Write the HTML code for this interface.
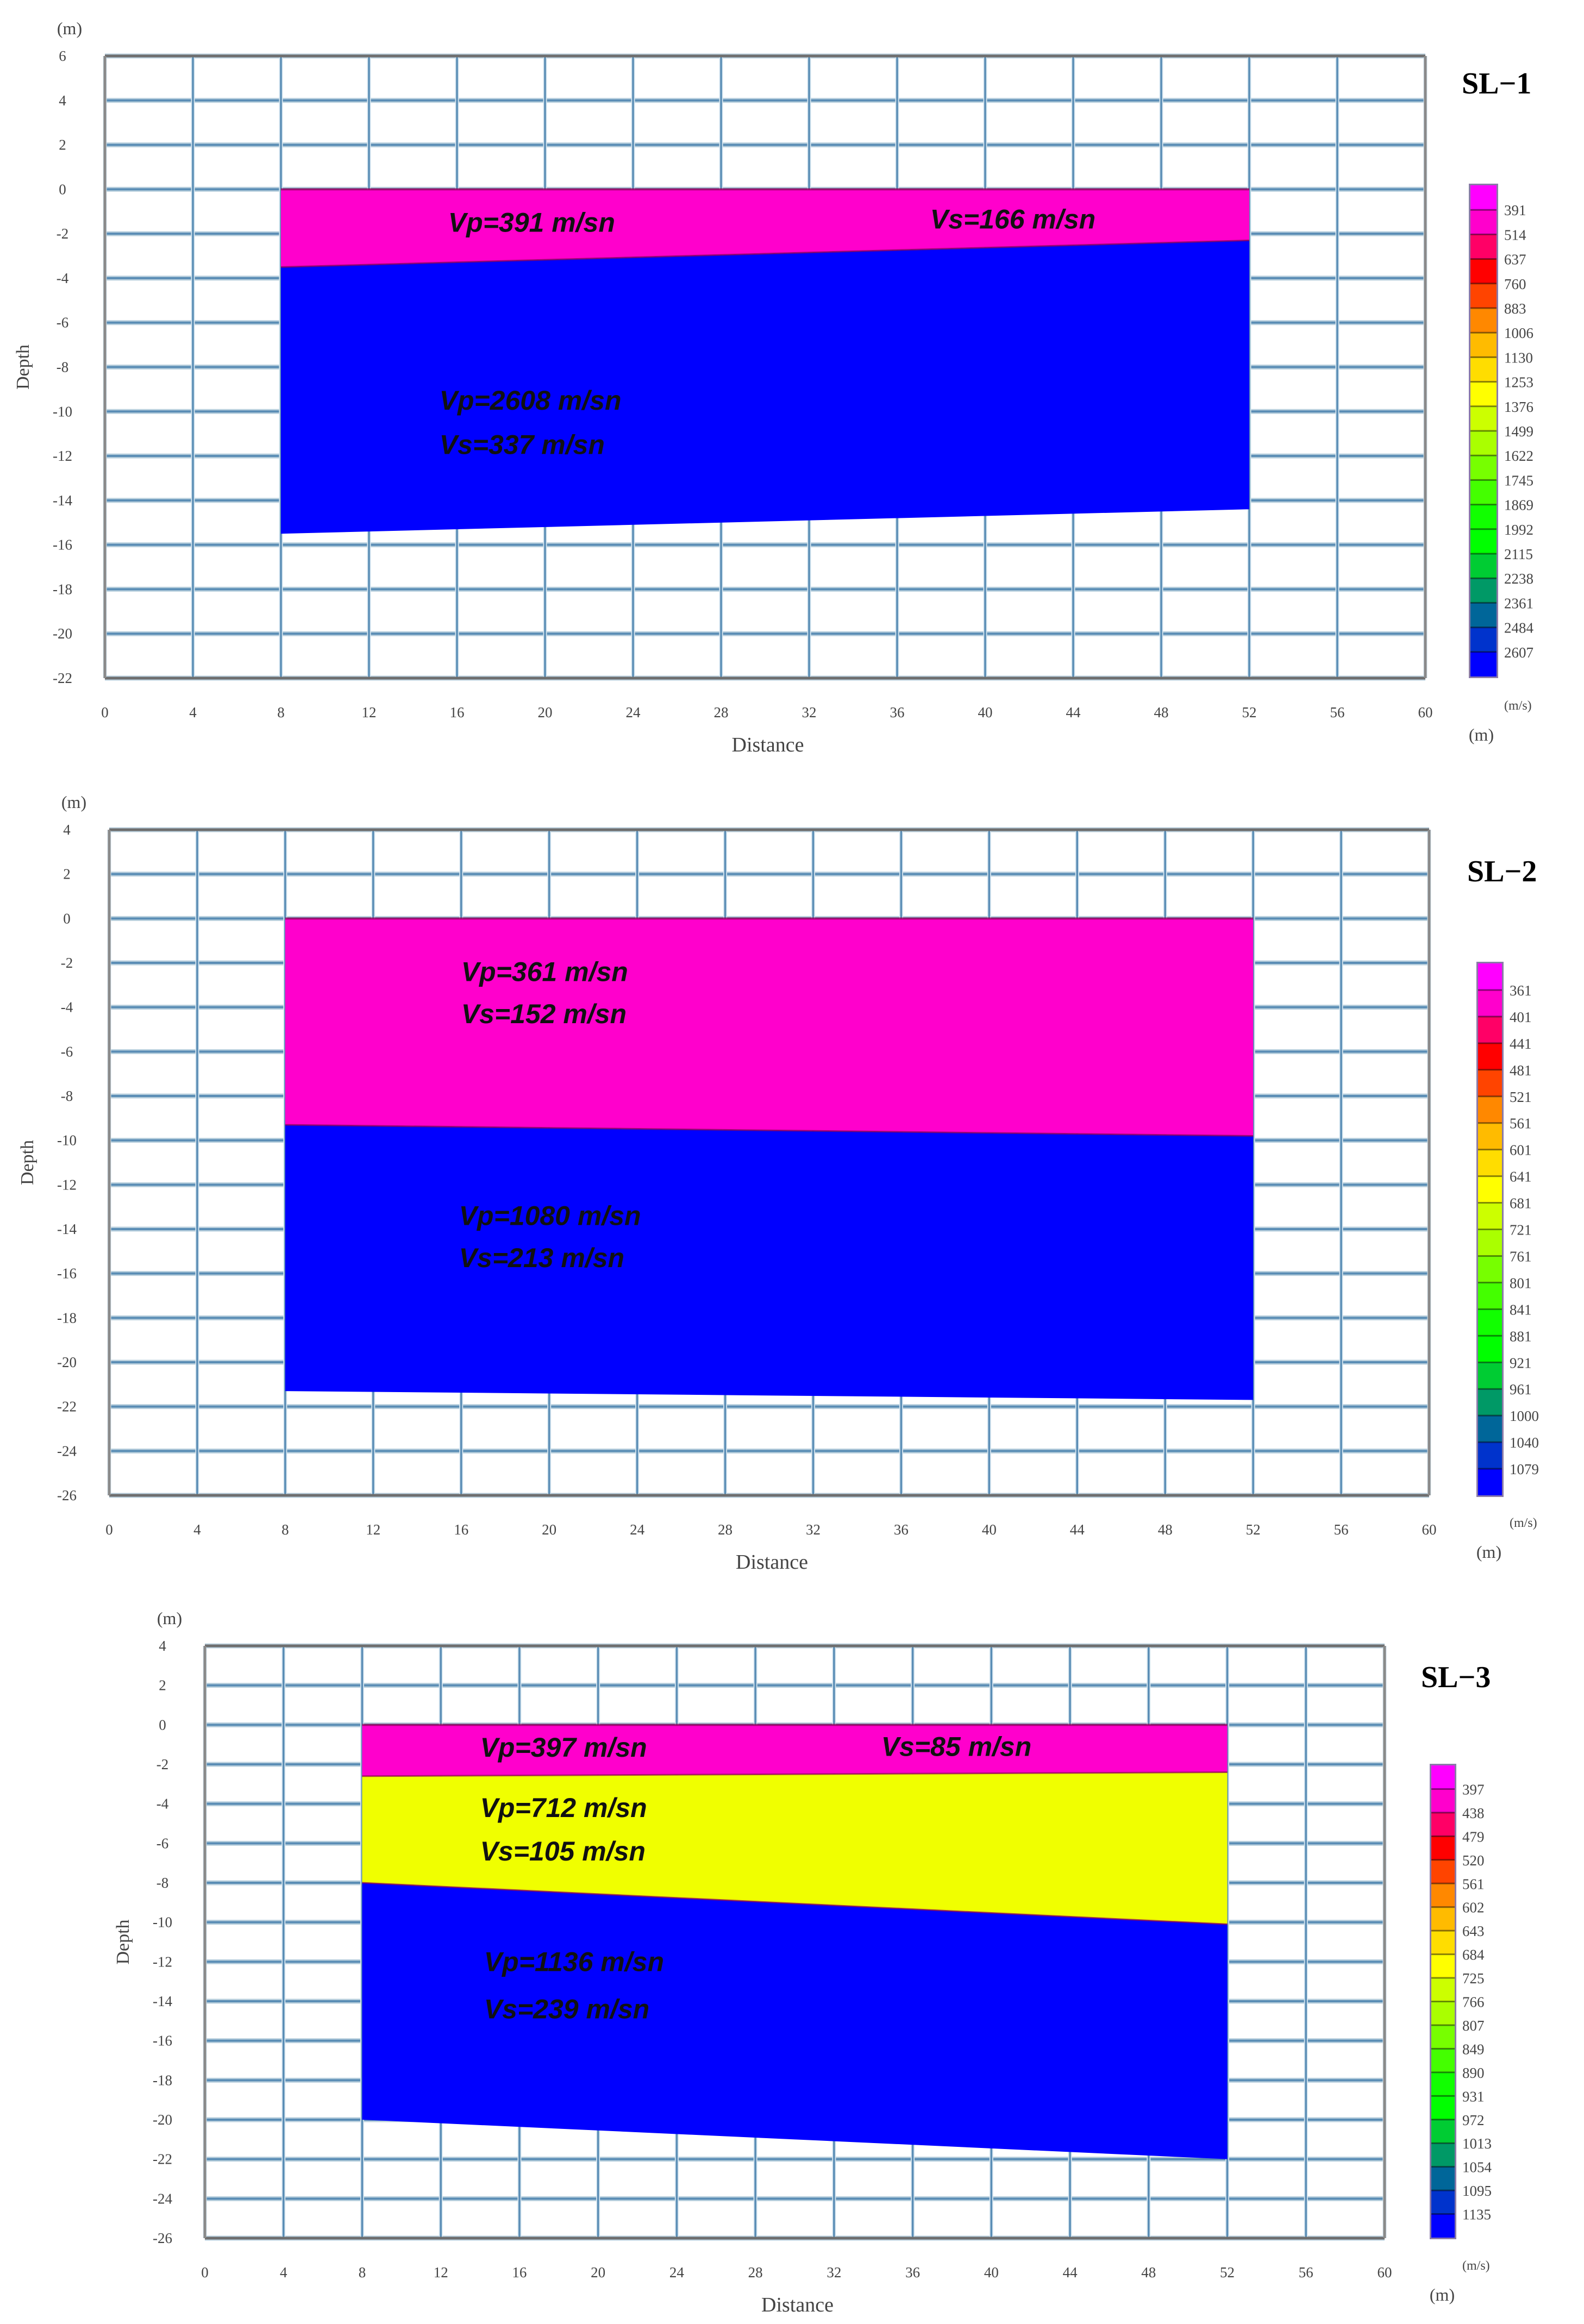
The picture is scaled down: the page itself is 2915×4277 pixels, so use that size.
<!DOCTYPE html>
<html><head><meta charset="utf-8">
<style>
html,body{margin:0;padding:0;background:#fff;}
svg{display:block;}
</style></head>
<body>
<svg id="chart" xmlns="http://www.w3.org/2000/svg" width="2915" height="4277" viewBox="0 0 2915 4277">
<rect x="0" y="0" width="2915" height="4277" fill="#ffffff"/>
</svg>
<script>
// ---- data ----
const xTicks = [0,4,8,12,16,20,24,28,32,36,40,44,48,52,56,60];
const sl1Title = "SL\u22121";
const sl2Title = "SL\u22122";
const sl3Title = "SL\u22123";
const sl1YTicks = [6,4,2,0,-2,-4,-6,-8,-10,-12,-14,-16,-18,-20,-22];
const sl2YTicks = [4,2,0,-2,-4,-6,-8,-10,-12,-14,-16,-18,-20,-22,-24,-26];
const sl3YTicks = [4,2,0,-2,-4,-6,-8,-10,-12,-14,-16,-18,-20,-22,-24,-26];
// layer boundaries: depth at x=8 and x=52
const sl1Boundaries = [[0,0],[-3.5,-2.3],[-15.5,-14.4]];
const sl2Boundaries = [[0,0],[-9.3,-9.8],[-21.3,-21.7]];
const sl3Boundaries = [[0,0],[-2.6,-2.4],[-8.0,-10.1],[-20.0,-22.0]];
const profileStart = 8, profileEnd = 52;
const sl1Colors = ["#ff00cc","#0000ff"];
const sl2Colors = ["#ff00cc","#0000ff"];
const sl3Colors = ["#ff00cc","#f0ff00","#0000ff"];
const sl1Scale = [391,514,637,760,883,1006,1130,1253,1376,1499,1622,1745,1869,1992,2115,2238,2361,2484,2607];
const sl2Scale = [361,401,441,481,521,561,601,641,681,721,761,801,841,881,921,961,1000,1040,1079];
const sl3Scale = [397,438,479,520,561,602,643,684,725,766,807,849,890,931,972,1013,1054,1095,1135];
const bandColors = ["#ff00ff","#ff00cc","#ff0066","#ff0000","#ff4400","#ff8800","#ffbb00","#ffdd00","#ffff00","#ccff00","#aaff00","#77ff00","#44ff00","#11ff00","#00ff00","#00cc33","#009966","#006699","#0033cc","#0000ff"];
const sl1Labels = [["Vp=391 m/sn",15.6,-1.5],["Vs=166 m/sn",37.5,-1.35],["Vp=2608 m/sn",15.2,-9.5],["Vs=337 m/sn",15.2,-11.5]];
const sl2Labels = [["Vp=361 m/sn",16.0,-2.4],["Vs=152 m/sn",16.0,-4.3],["Vp=1080 m/sn",15.9,-13.4],["Vs=213 m/sn",15.9,-15.3]];
const sl3Labels = [["Vp=397 m/sn",14.0,-1.15],["Vs=85 m/sn",34.4,-1.1],["Vp=712 m/sn",14.0,-4.2],["Vs=105 m/sn",14.0,-6.4],["Vp=1136 m/sn",14.2,-12.0],["Vs=239 m/sn",14.2,-14.4]];

const NS="http://www.w3.org/2000/svg";
const svg=document.getElementById('chart');
function mk(tag,attrs,parent){const e=document.createElementNS(NS,tag);for(const k in attrs)e.setAttribute(k,attrs[k]);(parent||svg).appendChild(e);return e;}

function drawPanel(p){
  const g=mk('g',{});
  
  
  const ymax=p.yTicks[0], ymin=p.yTicks[p.yTicks.length-1];
  const sx=v=>p.L+(v-xTicks[0])/(xTicks[xTicks.length-1]-xTicks[0])*(p.R-p.L);
  const sy=v=>p.T+(ymax-v)/(ymax-ymin)*(p.B-p.T);
  const grid=mk('g',{},g);
  
  
  p.yTicks.forEach(t=>{
    const y=sy(t);
    mk('line',{x1:p.L,x2:p.R,y1:y,y2:y,stroke:'#b8cfdd','stroke-width':9},grid);
    mk('line',{x1:p.L,x2:p.R,y1:y,y2:y,stroke:'#5a8db5','stroke-width':4},grid);
  });
  xTicks.forEach(t=>{
    const x=sx(t);
    mk('line',{x1:x,x2:x,y1:p.T,y2:p.B,stroke:'#d6e6f0','stroke-width':7},grid);
    mk('line',{x1:x,x2:x,y1:p.T,y2:p.B,stroke:'#5a8db5','stroke-width':3.5},grid);
  });
  for(let i=0;i<p.bounds.length-1;i++){
    const a=p.bounds[i], b=p.bounds[i+1];
    const pts=[[sx(profileStart),sy(a[0])],[sx(profileEnd),sy(a[1])],[sx(profileEnd),sy(b[1])],[sx(profileStart),sy(b[0])]];
    const poly=mk('polygon',{points:pts.map(q=>q.join(',')).join(' '),fill:p.colors[i]},g);
    
    
  }
  for(let i=0;i<p.bounds.length-1;i++){
    const a=p.bounds[i];
    mk('line',{x1:sx(profileStart),x2:sx(profileEnd),y1:sy(a[0]),y2:sy(a[1]),stroke:'#8a0050','stroke-width':i==0?4:3,'stroke-opacity':0.7},g);
  }
  mk('line',{x1:p.L,x2:p.R,y1:p.T,y2:p.T,stroke:'#6e6e6e','stroke-width':5},g);
  mk('line',{x1:p.L,x2:p.R,y1:p.B,y2:p.B,stroke:'#6e6e6e','stroke-width':5},g);
  mk('line',{x1:p.L,x2:p.L,y1:p.T,y2:p.B,stroke:'#8a8a8a','stroke-width':5},g);
  mk('line',{x1:p.R,x2:p.R,y1:p.T,y2:p.B,stroke:'#8a8a8a','stroke-width':5},g);
  const ta=mk('g',{'font-family':'Liberation Serif, serif','font-size':27,fill:'#444'},g);
  
  
  p.yTicks.forEach(t=>{
    const e=mk('text',{x:p.L-78,y:sy(t)+9,'text-anchor':'middle'},ta);e.textContent=String(t);
  });
  xTicks.forEach(t=>{
    const e=mk('text',{x:sx(t),y:p.B+72,'text-anchor':'middle'},ta);e.textContent=String(t);
  });
  const yl=mk('text',{x:0,y:0,transform:`translate(${p.L-140},${(p.T+p.B)/2}) rotate(-90)`,'text-anchor':'middle','font-family':'Liberation Serif, serif','font-size':34,fill:'#444'},g);
  yl.textContent='Depth';
  
  
  const xl=mk('text',{x:(p.L+p.R)/2+5,y:p.B+135,'text-anchor':'middle','font-family':'Liberation Serif, serif','font-size':38,fill:'#444'},g);
  xl.textContent='Distance';
  
  
  const u1=mk('text',{x:p.L-65,y:p.T-40,'text-anchor':'middle','font-family':'Liberation Serif, serif','font-size':32,fill:'#444'},g);
  u1.textContent='(m)';
  
  
  const u2=mk('text',{x:p.cbL+20,y:p.B+115,'text-anchor':'middle','font-family':'Liberation Serif, serif','font-size':32,fill:'#444'},g);
  u2.textContent='(m)';
  
  
  p.labels.forEach(l=>{
    const e=mk('text',{x:sx(l[1]),y:sy(l[2])+17,'font-family':'Liberation Sans, sans-serif','font-size':50,'font-weight':'bold','font-style':'italic',fill:'#111'},g);
    e.textContent=l[0];
    
    
  });
  const tt=mk('text',{x:p.titleX,y:p.titleY,'font-family':'Liberation Serif, serif','font-size':56,'font-weight':'bold',fill:'#000'},g);
  tt.textContent=p.title;
  
  
  const cb=mk('g',{},g);
  
  
  const n=bandColors.length, h=(p.cbB-p.cbT)/n, w=p.cbR-p.cbL;
  mk('rect',{x:p.cbL-3,y:p.cbT-3,width:w+6,height:p.cbB-p.cbT+6,fill:'#8a7aa8'},cb);
  bandColors.forEach((c,i)=>{
    mk('rect',{x:p.cbL,y:p.cbT+i*h,width:w,height:h,fill:c},cb);
    if(i>0) mk('line',{x1:p.cbL,x2:p.cbR,y1:p.cbT+i*h,y2:p.cbT+i*h,stroke:'#000','stroke-opacity':0.45,'stroke-width':3},cb);
  });
  p.scale.forEach((v,i)=>{
    const e=mk('text',{x:p.cbR+14,y:p.cbT+(i+1)*h+10,'font-family':'Liberation Serif, serif','font-size':27,fill:'#444'},cb);
    e.textContent=String(v);
  });
  const ms=mk('text',{x:p.cbR+14,y:p.B+58,'font-family':'Liberation Serif, serif','font-size':24,fill:'#444'},cb);
  ms.textContent='(m/s)';
}

drawPanel({name:'sl1-panel',L:193,R:2623,T:103,B:1248,yTicks:sl1YTicks,bounds:sl1Boundaries,colors:sl1Colors,labels:sl1Labels,title:sl1Title,titleX:2690,titleY:172,cbL:2706,cbR:2754,cbT:341,cbB:1245,scale:sl1Scale});
drawPanel({name:'sl2-panel',L:201,R:2630,T:1527,B:2752,yTicks:sl2YTicks,bounds:sl2Boundaries,colors:sl2Colors,labels:sl2Labels,title:sl2Title,titleX:2700,titleY:1622,cbL:2720,cbR:2764,cbT:1773,cbB:2752,scale:sl2Scale});
drawPanel({name:'sl3-panel',L:377,R:2548,T:3029,B:4119,yTicks:sl3YTicks,bounds:sl3Boundaries,colors:sl3Colors,labels:sl3Labels,title:sl3Title,titleX:2615,titleY:3105,cbL:2634,cbR:2677,cbT:3249,cbB:4118,scale:sl3Scale});
</script>
</body></html>
